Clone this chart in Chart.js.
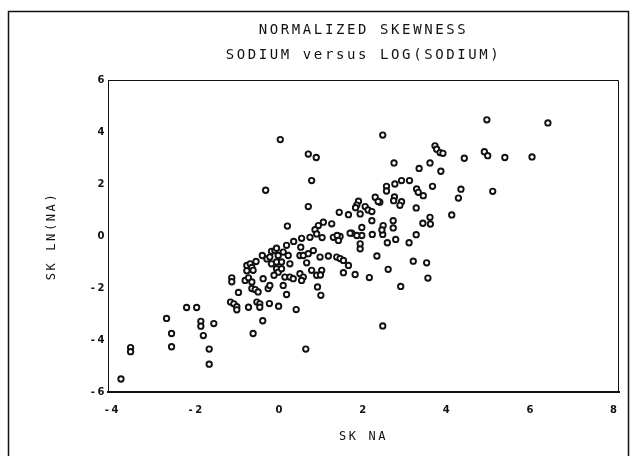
<!DOCTYPE html>
<html>
<head>
<meta charset="utf-8">
<script src="https://cdn.jsdelivr.net/npm/chart.js@4/dist/chart.umd.min.js"></script>
<style>
  body { margin: 0; background: #fff; }
  #wrap { width: 631px; height: 456px; }
</style>
</head>
<body>
<div id="wrap"><canvas id="myChart" width="631" height="456"></canvas></div>
<script>
// text
const titleLines = ["NORMALIZED SKEWNESS", "SODIUM versus LOG(SODIUM)"];
const xTitle = "SK NA";
const yTitle = "SK LN(NA)";

// axis ranges / ticks
const xTicks = [-4, -2, 0, 2, 4, 6, 8];
const yTicks = [-6, -4, -2, 0, 2, 4, 6];

// SK NA values
const skNa = [
  -3.81, -3.58, -3.58, -2.72, -2.60, -2.60, -2.24, -2.00, -1.90, -1.90,
  -1.84, -1.70, -1.70, -1.59, -1.16, -1.16, -1.00, -1.19, -1.11, -1.04,
  -1.04, -0.76, -0.56, -0.49, -0.49, -0.26, -0.04, -0.42, -0.65, 0.61,
  0.38, 0.15, -0.84, -0.76, -0.68, -0.68, -0.60, -0.53, -0.41, -0.29,
  -0.25, -0.09, -0.05, -0.80, -0.72, -0.68, -0.65, -0.80, -0.58, -0.43,
  -0.32, -0.25, -0.21, -0.13, -0.05, -0.09, -0.21, 0.07, 0.19, 0.03,
  0.03, 0.23, 0.11, 0.23, 0.31, 0.07, 0.47, 0.55, 0.51, 0.75,
  0.87, 0.99, 0.96, 0.89, 0.97, 0.49, 0.47, 0.55, 0.67, 0.79,
  0.95, 1.15, 1.35, 1.43, 1.51, 1.63, 0.63, 1.51, 1.79, 2.13,
  2.31, 2.58, 2.88, 3.18, 3.50, 3.53, 2.45, 1.91, 1.91, 1.95,
  1.83, 1.71, 2.20, 2.45, 2.56, 2.76, 3.08, 3.25, 1.43, 1.95,
  2.70, 2.70, 2.46, 2.43, 3.41, 3.58, 3.59, 4.10, 3.25, 2.38,
  2.27, 2.34, 2.54, 2.54, 2.74, 2.90, 3.09, 2.73, 2.71, 2.90,
  2.86, 3.26, 3.30, 3.42, 3.64, 4.32, 4.26, 2.03, 2.10, 2.19,
  1.87, 1.83, 1.80, 1.41, 1.63, 1.91, 2.19, 1.23, 1.03, 0.91,
  0.83, 0.17, 0.67, 0.75, 0.67, 0.86, 0.00, -0.35, 2.45, 2.72,
  3.32, 3.58, 3.84, 3.70, 3.74, 3.82, 3.89, 4.40, 4.88, 4.96,
  5.37, 6.02, 4.94, 6.40, 5.08, 0.15, 0.32, 0.51, 0.71, 0.87,
  1.00, 1.27, 1.36, 1.39, 1.67, -0.09, -0.15
];

// SK LN(NA) values, same order
const skLnNa = [
  -5.50, -4.29, -4.45, -3.17, -3.75, -4.26, -2.75, -2.75, -3.28, -3.47,
  -3.83, -4.35, -4.93, -3.37, -1.61, -1.76, -2.17, -2.54, -2.61, -2.72,
  -2.84, -2.74, -2.54, -2.61, -2.74, -2.60, -2.70, -3.26, -3.75, -4.35,
  -2.83, -2.25, -1.71, -1.61, -1.77, -2.02, -2.06, -2.15, -1.64, -2.02,
  -1.90, -1.26, -1.39, -1.13, -1.07, -1.21, -1.32, -1.34, -0.98, -0.75,
  -0.88, -0.81, -0.59, -0.56, -0.75, -1.00, -1.07, -0.62, -0.75, -1.00,
  -1.26, -1.07, -1.58, -1.58, -1.64, -1.90, -1.45, -1.58, -1.71, -1.32,
  -1.51, -1.32, -1.50, -1.96, -2.28, -0.43, -0.75, -0.75, -0.68, -0.56,
  -0.81, -0.77, -0.81, -0.87, -0.94, -1.13, -1.03, -1.41, -1.48, -1.60,
  -0.77, -1.28, -1.94, -0.97, -1.03, -1.62, -3.46, -0.49, -0.30, 0.02,
  0.02, 0.11, 0.06, 0.06, -0.26, -0.13, -0.26, 0.05, -0.02, 0.33,
  0.59, 0.31, 0.40, 0.23, 0.49, 0.72, 0.46, 0.81, 1.08, 1.30,
  1.49, 1.33, 1.91, 1.73, 2.00, 2.13, 2.13, 1.50, 1.36, 1.32,
  1.18, 1.81, 1.68, 1.55, 1.91, 1.80, 1.46, 1.13, 1.00, 0.94,
  1.34, 1.19, 1.09, 0.91, 0.82, 0.85, 0.59, 0.47, 0.53, 0.40,
  0.24, 0.38, 1.13, 2.13, 3.15, 3.02, 3.71, 1.76, 3.88, 2.81,
  2.60, 2.81, 2.49, 3.47, 3.34, 3.21, 3.18, 2.99, 3.24, 3.09,
  3.02, 3.04, 4.47, 4.35, 1.72, -0.36, -0.21, -0.09, -0.05, 0.08,
  -0.06, -0.05, 0.02, -0.17, 0.11, -0.47, -1.51
];

function buildPoints(xs, ys){
    let pts = [];
    for(let i = 0; i < xs.length; i++){
        pts.push({x: xs[i], y: ys[i]});
    }
    return pts;
}

// wide plotter-style lettering + frames around the plot and the page
const framePlugin = {
    id: 'frames',
    beforeDraw(chart){
        chart.ctx.letterSpacing = '2.6px';
    },
    afterDraw(chart){
        const ctx = chart.ctx;
        const a = chart.chartArea;
        ctx.save();
        ctx.strokeStyle = '#111';
        ctx.lineWidth = 1;
        ctx.beginPath();
        ctx.moveTo(a.left, a.top + 0.5);
        ctx.lineTo(a.right - 0.5, a.top + 0.5);
        ctx.lineTo(a.right - 0.5, a.bottom);
        ctx.stroke();
        ctx.lineWidth = 1.5;
        ctx.beginPath();
        ctx.moveTo(8.5, 456);
        ctx.lineTo(8.5, 11.5);
        ctx.lineTo(628.5, 11.5);
        ctx.lineTo(628.5, 456);
        ctx.stroke();
        ctx.restore();
    }
};

const data = {
    datasets: [{
        label: 'SK',
        data: buildPoints(skNa, skLnNa),
        pointRadius: 2.7,
        pointBorderWidth: 1.9,
        pointBackgroundColor: '#fff',
        pointBorderColor: '#111',
        showLine: false
    }]
};

const config = {
    type: 'scatter',
    data: data,
    options: {
        responsive: false,
        animation: false,
        layout: { padding: { left: 0, right: 12, top: 0, bottom: 0 } },
        plugins: {
            legend: { display: false },
            tooltip: { enabled: false },
            title: {
                display: true,
                text: titleLines,
                fullSize: false,
                color: '#111',
                font: { family: 'DejaVu Sans Mono', size: 14, weight: 'normal', lineHeight: 1.85 },
                padding: { top: 17, bottom: 11.2 }
            }
        },
        scales: {
            x: {
                type: 'linear',
                min: -4.12,
                max: 8.1,
                afterFit(scale){ scale.height = 64; },
                afterBuildTicks(scale){ scale.ticks = xTicks.map(v => ({value: v})); },
                ticks: {
                    color: '#111',
                    padding: 12,
                    font: { family: 'DejaVu Sans', size: 10, weight: 'bold' }
                },
                grid: { display: false, drawTicks: false },
                border: { display: true, color: '#111', width: 2 },
                title: {
                    display: true,
                    text: xTitle,
                    color: '#111',
                    font: { family: 'DejaVu Sans Mono', size: 12 },
                    padding: { top: 0, bottom: 11.8 }
                }
            },
            y: {
                type: 'linear',
                min: -6,
                max: 6,
                afterFit(scale){ scale.width = 108; },
                afterBuildTicks(scale){ scale.ticks = yTicks.map(v => ({value: v})); },
                ticks: {
                    color: '#111',
                    padding: 1,
                    font: { family: 'DejaVu Sans', size: 10, weight: 'bold' }
                },
                grid: { display: false, drawTicks: false },
                border: { display: true, color: '#111', width: 1 },
                title: {
                    display: true,
                    text: yTitle,
                    color: '#111',
                    font: { family: 'DejaVu Sans Mono', size: 12 },
                    padding: { top: 44.8, bottom: 0 }
                }
            }
        }
    },
    plugins: [framePlugin]
};

let myChart = new Chart(document.getElementById('myChart'), config);
</script>
</body>
</html>
